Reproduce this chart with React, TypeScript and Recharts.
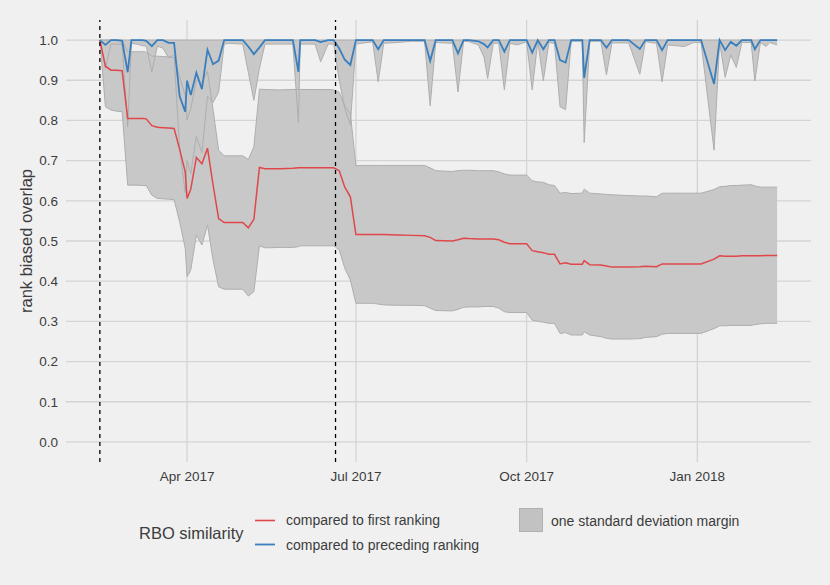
import { ComposedChart, Area, Line, XAxis, YAxis, CartesianGrid, ReferenceLine } from 'recharts'

// crawl dates (one sample per crawl)
const dates = [
  '2017-02-13', '2017-02-16', '2017-02-19', '2017-02-22', '2017-02-25', '2017-02-28', '2017-03-02', '2017-03-05',
  '2017-03-08', '2017-03-10', '2017-03-13', '2017-03-16', '2017-03-19', '2017-03-22', '2017-03-25', '2017-03-28',
  '2017-03-31', '2017-04-01', '2017-04-03', '2017-04-06', '2017-04-09', '2017-04-12', '2017-04-15', '2017-04-18',
  '2017-04-21', '2017-04-24', '2017-05-01', '2017-05-04', '2017-05-07', '2017-05-10', '2017-05-13', '2017-05-21',
  '2017-05-28', '2017-05-31', '2017-06-01', '2017-06-09', '2017-06-12', '2017-06-16', '2017-06-19', '2017-06-22',
  '2017-06-25', '2017-06-28', '2017-07-01', '2017-07-04', '2017-07-10', '2017-07-13', '2017-07-16', '2017-07-23',
  '2017-07-31', '2017-08-07', '2017-08-10', '2017-08-13', '2017-08-22', '2017-08-25', '2017-08-28', '2017-08-31',
  '2017-09-05', '2017-09-08', '2017-09-10', '2017-09-13', '2017-09-16', '2017-09-19', '2017-09-22', '2017-09-26',
  '2017-10-01', '2017-10-04', '2017-10-07', '2017-10-10', '2017-10-13', '2017-10-16', '2017-10-19', '2017-10-22',
  '2017-10-25', '2017-10-31', '2017-11-01', '2017-11-04', '2017-11-10', '2017-11-13', '2017-11-16', '2017-11-25',
  '2017-12-01', '2017-12-04', '2017-12-10', '2017-12-13', '2017-12-16', '2017-12-25', '2017-12-30', '2018-01-03',
  '2018-01-10', '2018-01-13', '2018-01-16', '2018-01-19', '2018-01-22', '2018-01-25', '2018-01-30', '2018-02-01',
  '2018-02-04', '2018-02-07', '2018-02-09', '2018-02-13',
]

// RBO compared to first ranking: mean, mean - sd, mean + sd
const firstMean = [
  1.0, 0.935, 0.925, 0.925, 0.924, 0.805, 0.805, 0.805, 0.805, 0.804, 0.787, 0.783, 0.782, 0.781, 0.78, 0.728,
  0.672, 0.606, 0.629, 0.708, 0.692, 0.731, 0.64, 0.556, 0.546, 0.546, 0.546, 0.533, 0.554, 0.683, 0.68, 0.68,
  0.681, 0.682, 0.682, 0.682, 0.682, 0.682, 0.682, 0.675, 0.634, 0.61, 0.516, 0.516, 0.516, 0.516, 0.516, 0.515,
  0.514, 0.513, 0.509, 0.501, 0.5, 0.503, 0.507, 0.506, 0.505, 0.505, 0.505, 0.505, 0.503, 0.497, 0.493, 0.493,
  0.493, 0.476, 0.473, 0.471, 0.467, 0.467, 0.443, 0.446, 0.442, 0.442, 0.451, 0.441, 0.44, 0.438, 0.435, 0.435,
  0.436, 0.437, 0.436, 0.443, 0.443, 0.443, 0.443, 0.443, 0.455, 0.463, 0.462, 0.462, 0.462, 0.463, 0.463, 0.463,
  0.463, 0.464, 0.464, 0.464,
]
const firstLow = [
  1.0, 0.834, 0.826, 0.823, 0.822, 0.639, 0.639, 0.639, 0.638, 0.638, 0.614, 0.606, 0.605, 0.604, 0.603, 0.548,
  0.482, 0.411, 0.428, 0.515, 0.49, 0.54, 0.453, 0.386, 0.38, 0.38, 0.38, 0.363, 0.374, 0.488, 0.483, 0.484,
  0.484, 0.486, 0.488, 0.488, 0.488, 0.488, 0.488, 0.478, 0.432, 0.403, 0.345, 0.345, 0.345, 0.343, 0.341, 0.34,
  0.34, 0.339, 0.333, 0.327, 0.326, 0.33, 0.335, 0.336, 0.336, 0.337, 0.337, 0.337, 0.333, 0.324, 0.322, 0.322,
  0.322, 0.303, 0.3, 0.298, 0.295, 0.295, 0.27, 0.272, 0.266, 0.266, 0.274, 0.266, 0.262, 0.258, 0.256, 0.256,
  0.257, 0.26, 0.262, 0.268, 0.27, 0.27, 0.27, 0.27, 0.282, 0.289, 0.289, 0.29, 0.29, 0.29, 0.29, 0.292,
  0.294, 0.295, 0.295, 0.295,
]
const firstHigh = [
  1.0, 1.0, 1.0, 1.0, 1.0, 0.971, 0.971, 0.971, 0.971, 0.97, 0.96, 0.96, 0.959, 0.958, 0.957, 0.908,
  0.862, 0.801, 0.83, 0.901, 0.894, 0.922, 0.827, 0.726, 0.712, 0.712, 0.712, 0.703, 0.734, 0.878, 0.877, 0.876,
  0.877, 0.877, 0.877, 0.877, 0.877, 0.877, 0.876, 0.87, 0.836, 0.817, 0.687, 0.688, 0.688, 0.688, 0.688, 0.688,
  0.688, 0.688, 0.682, 0.675, 0.673, 0.675, 0.676, 0.676, 0.675, 0.675, 0.675, 0.675, 0.672, 0.667, 0.664, 0.664,
  0.664, 0.65, 0.647, 0.646, 0.64, 0.638, 0.619, 0.621, 0.618, 0.619, 0.629, 0.619, 0.617, 0.616, 0.615, 0.613,
  0.612, 0.612, 0.61, 0.619, 0.619, 0.619, 0.619, 0.619, 0.628, 0.635, 0.636, 0.638, 0.638, 0.639, 0.64, 0.637,
  0.634, 0.634, 0.634, 0.634,
]

// RBO compared to preceding ranking: mean, mean - sd, mean + sd (clipped at 1)
const precMean = [
  1.0, 0.988, 1.0, 1.0, 0.998, 0.92, 1.0, 1.0, 1.0, 0.998, 0.985, 1.0, 1.0, 0.993, 0.993, 0.86,
  0.822, 0.899, 0.863, 0.919, 0.878, 0.976, 0.94, 0.949, 1.0, 1.0, 1.0, 0.984, 0.965, 0.982, 1.0, 1.0,
  1.0, 0.921, 1.0, 1.0, 0.995, 1.0, 1.0, 0.979, 0.951, 0.938, 1.0, 1.0, 1.0, 0.977, 1.0, 1.0,
  1.0, 1.0, 0.948, 1.0, 1.0, 0.967, 1.0, 1.0, 0.997, 0.99, 0.982, 1.0, 1.0, 0.971, 1.0, 1.0,
  1.0, 0.969, 1.0, 0.977, 1.0, 1.0, 0.95, 0.944, 1.0, 1.0, 0.906, 1.0, 1.0, 0.981, 1.0, 1.0,
  0.978, 1.0, 1.0, 0.975, 1.0, 1.0, 1.0, 1.0, 0.891, 1.0, 0.975, 0.996, 0.986, 1.0, 1.0, 0.977,
  1.0, 1.0, 1.0, 1.0,
]
const precLow = [
  1.0, 0.93, 0.99, 0.99, 0.99, 0.784, 0.992, 0.99, 0.986, 0.985, 0.921, 0.985, 0.98, 0.956, 0.962, 0.73,
  0.62, 0.7, 0.668, 0.76, 0.72, 0.86, 0.845, 0.87, 0.99, 0.992, 0.99, 0.92, 0.85, 0.93, 0.99, 0.99,
  0.99, 0.795, 0.99, 0.99, 0.946, 0.99, 0.99, 0.9, 0.83, 0.79, 0.99, 0.992, 0.996, 0.896, 0.992, 0.994,
  0.997, 0.997, 0.836, 0.994, 0.992, 0.871, 0.997, 0.996, 0.988, 0.958, 0.904, 0.992, 0.992, 0.876, 0.992, 0.988,
  0.996, 0.876, 0.996, 0.899, 0.994, 0.992, 0.834, 0.827, 0.997, 0.997, 0.745, 0.997, 0.997, 0.913, 0.993, 0.993,
  0.915, 0.996, 0.992, 0.896, 0.988, 0.984, 0.994, 0.994, 0.726, 0.994, 0.907, 0.963, 0.932, 0.994, 0.994, 0.898,
  0.994, 0.984, 0.994, 0.988,
]
const precHigh = [
  1, 1, 1, 1, 1, 1, 1, 1, 1, 1, 1, 1, 1, 1, 1, 1, 1, 1, 1, 1, 1, 1, 1, 1, 1,
  1, 1, 1, 1, 1, 1, 1, 1, 1, 1, 1, 1, 1, 1, 1, 1, 1, 1, 1, 1, 1, 1, 1, 1, 1,
  1, 1, 1, 1, 1, 1, 1, 1, 1, 1, 1, 1, 1, 1, 1, 1, 1, 1, 1, 1, 1, 1, 1, 1, 1,
  1, 1, 1, 1, 1, 1, 1, 1, 1, 1, 1, 1, 1, 1, 1, 1, 1, 1, 1, 1, 1, 1, 1, 1, 1,
]

const xTickDates = ['2017-04-01', '2017-07-01', '2017-10-01', '2018-01-01']
const xTickLabels = ['Apr 2017', 'Jul 2017', 'Oct 2017', 'Jan 2018']
const yTicks = [0, 0.1, 0.2, 0.3, 0.4, 0.5, 0.6, 0.7, 0.8, 0.9, 1.0]
const markerDates = ['2017-02-13', '2017-06-20']

const RED = '#e0474a'
const BLUE = '#3a7fbd'
const BAND = '#c8c8c8'
const EDGE = '#aeaeae'
const TEXT = '#3c3c3c'
const FONT = '"Liberation Sans", Arial, Helvetica, sans-serif'

const toTime = (d: string) => Date.parse(d + 'T00:00:00Z')

const rows = dates.map((d, i) => ({
  t: toTime(d),
  firstMean: firstMean[i],
  firstLow: firstLow[i],
  firstHigh: firstHigh[i],
  firstBand: [firstLow[i], firstHigh[i]],
  precMean: precMean[i],
  precLow: precLow[i],
  precHigh: precHigh[i],
  precBand: [precLow[i], precHigh[i]],
}))

const tStart = rows[0].t
const tEnd = rows[rows.length - 1].t
const pad = (tEnd - tStart) * 0.05
const xDomain = [tStart - pad, tEnd + pad]
const yDomain = [-0.05, 1.05]
const xTicks = xTickDates.map(toTime)
const labelFor = (t: number) => xTickLabels[xTicks.indexOf(t)] ?? ''

// grid only at the tick values, not at the panel edges
const hGrid = ({ offset }: any) =>
  yTicks.map((v) => offset.top + (offset.height * (yDomain[1] - v)) / (yDomain[1] - yDomain[0]))
const vGrid = ({ offset }: any) =>
  xTicks.map((t) => offset.left + (offset.width * (t - xDomain[0])) / (xDomain[1] - xDomain[0]))

function Legend() {
  return (
    <svg width={830} height={585} style={{ position: 'absolute', left: 0, top: 0, pointerEvents: 'none' }}>
      <text x={31.5} y={241} transform="rotate(-90 31.5 241)" textAnchor="middle" fontSize={16.5} fill={TEXT} fontFamily={FONT}>
        rank biased overlap
      </text>
      <text x={139} y={538.5} fontSize={16.5} fill={TEXT} fontFamily={FONT}>RBO similarity</text>
      <line x1={255} x2={275} y1={520.5} y2={520.5} stroke={RED} strokeWidth={1.6} />
      <line x1={255} x2={275} y1={544.5} y2={544.5} stroke={BLUE} strokeWidth={1.8} />
      <text x={286} y={525} fontSize={14} fill={TEXT} fontFamily={FONT}>compared to first ranking</text>
      <text x={286} y={549.5} fontSize={14} fill={TEXT} fontFamily={FONT}>compared to preceding ranking</text>
      <rect x={519.5} y={508.5} width={23} height={23} fill="#c2c2c2" stroke="#b0b0b0" strokeWidth={1} />
      <text x={551} y={526} fontSize={14} fill={TEXT} fontFamily={FONT}>one standard deviation margin</text>
    </svg>
  )
}

export default function App() {
  return (
    <div style={{ position: 'absolute', left: 0, top: 0, width: 830, height: 585, background: '#f0f0f0', fontFamily: FONT }}>
      <ComposedChart width={830} height={585} data={rows} margin={{ top: 20, right: 19, bottom: 93, left: 0 }}>
        <CartesianGrid
          stroke="#d4d4d4"
          strokeWidth={1.3}
          horizontalCoordinatesGenerator={hGrid}
          verticalCoordinatesGenerator={vGrid}
        />
        <XAxis
          dataKey="t"
          type="number"
          domain={xDomain}
          ticks={xTicks}
          tickFormatter={labelFor}
          height={30}
          axisLine={false}
          tickLine={false}
          tickMargin={3}
          tick={{ fontSize: 13.5, fill: TEXT, fontFamily: FONT }}
          allowDataOverflow
        />
        <YAxis
          type="number"
          domain={yDomain}
          ticks={yTicks}
          tickFormatter={(v: number) => v.toFixed(1)}
          width={66}
          axisLine={false}
          tickLine={false}
          tick={{ fontSize: 13.5, fill: TEXT, fontFamily: FONT }}
          allowDataOverflow
        />
        <Area dataKey="firstBand" type="linear" fill={BAND} fillOpacity={1} stroke="none" isAnimationActive={false} activeDot={false} />
        <Area dataKey="precBand" type="linear" fill={BAND} fillOpacity={1} stroke="none" isAnimationActive={false} activeDot={false} />
        <Line dataKey="firstLow" type="linear" stroke={EDGE} strokeWidth={1} dot={false} activeDot={false} isAnimationActive={false} />
        <Line dataKey="firstHigh" type="linear" stroke={EDGE} strokeWidth={1} dot={false} activeDot={false} isAnimationActive={false} />
        <Line dataKey="precLow" type="linear" stroke={EDGE} strokeWidth={1} dot={false} activeDot={false} isAnimationActive={false} />
        <Line dataKey="precHigh" type="linear" stroke={EDGE} strokeWidth={1} dot={false} activeDot={false} isAnimationActive={false} />
        <Line dataKey="firstMean" type="linear" stroke={RED} strokeWidth={1.5} dot={false} activeDot={false} isAnimationActive={false} />
        <Line dataKey="precMean" type="linear" stroke={BLUE} strokeWidth={1.8} dot={false} activeDot={false} isAnimationActive={false} />
        {markerDates.map((d) => (
          <ReferenceLine key={d} x={toTime(d)} stroke="#000" strokeWidth={1.3} strokeDasharray="4 4" />
        ))}
      </ComposedChart>
      <Legend />
    </div>
  )
}
